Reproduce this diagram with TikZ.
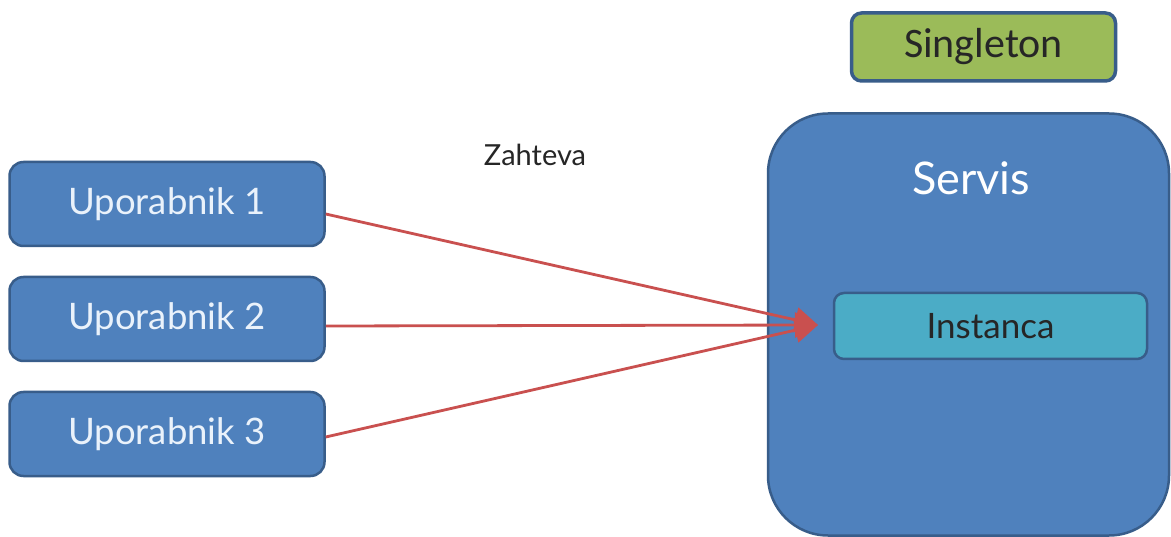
\documentclass[tikz,border=0pt]{standalone}
\usepackage{fontspec}
\setmainfont{Lato}
\newfontfamily\calib{Carlito}
\usetikzlibrary{arrows.meta,calc}
\definecolor{boxblue}{HTML}{4F81BD}
\definecolor{edgeblue}{HTML}{385D8A}
\definecolor{aqua}{HTML}{4BACC6}
\definecolor{olive}{HTML}{9BBB59}
\definecolor{arrowred}{HTML}{C9504F}
\definecolor{paletext}{HTML}{EAF2FB}
\tikzset{
  userbox/.style={draw=edgeblue, line width=2.5pt, fill=boxblue, rounded corners=14pt,
    minimum width=315pt, minimum height=84pt, text=paletext, inner sep=0pt,
    font=\fontsize{36.5}{42}\selectfont},
  request/.style={draw=arrowred, line width=2.8pt, -{Triangle[length=23pt,width=25pt]}},
}
\begin{document}
\begin{tikzpicture}[x=1pt,y=-1pt]
  \useasboundingbox (0,0) rectangle (1171,537);
  \fill[white] (0,0) rectangle (1171,537);

  % clients
  \node[userbox] (u1) at (167,204) {Uporabnik 1};
  \node[userbox] (u2) at (167,319) {Uporabnik 2};
  \node[userbox] (u3) at (167,434) {Uporabnik 3};

  % service container
  \node[draw=edgeblue, line width=2.5pt, fill=boxblue, rounded corners=60pt,
        minimum width=401pt, minimum height=422pt, inner sep=0pt] (srv) at (968.5,324.5) {};
  \node[text=white, font=\fontsize{45}{52}\selectfont, anchor=base] (srvlabel) at (971,195) {Servis};

  % the single instance
  \node[draw=edgeblue, line width=2.5pt, fill=aqua, rounded corners=10pt,
        minimum width=313pt, minimum height=66pt, inner sep=0pt,
        text=black!85, font=\fontsize{35}{40}\selectfont] (inst) at (990.5,326) {Instanca};

  % pattern tag
  \node[draw=edgeblue, line width=3.5pt, fill=olive, rounded corners=10pt,
        minimum width=264pt, minimum height=68pt, inner sep=0pt,
        text=black!85, font=\calib\fontsize{42}{48}\selectfont] (tag) at (983.5,47) {Singleton};

  % requests
  \node[font=\fontsize{29}{34}\selectfont, text=black!85] (req) at (535,155) {Zahteva};
  \coordinate (tip) at (818,325);
  \draw[request] ([yshift=-10pt]u1.east) -- (tip);
  \draw[request] ([yshift=-7pt]u2.east) -- (tip);
  \draw[request] ([yshift=-3pt]u3.east) -- (tip);
\end{tikzpicture}
\end{document}
